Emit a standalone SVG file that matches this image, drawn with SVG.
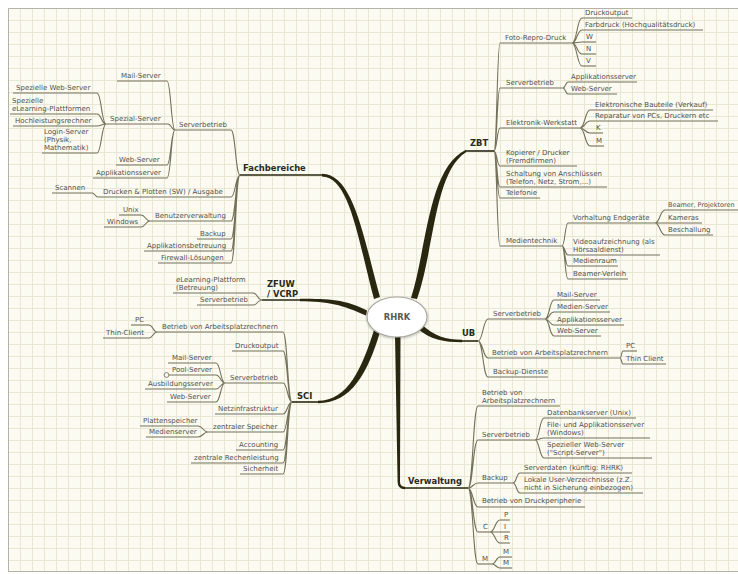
<svg xmlns="http://www.w3.org/2000/svg" width="738" height="574" viewBox="0 0 738 574">
<defs>
<pattern id="grid" x="8" y="8" width="12" height="12" patternUnits="userSpaceOnUse">
<rect width="12" height="12" fill="#fbfbf1"/>
<path d="M0 0.5H12M0.5 0V12" stroke="#e8e7d6" stroke-width="1" fill="none"/>
</pattern>
<filter id="sh" x="-20%" y="-20%" width="140%" height="150%"><feDropShadow dx="0" dy="1" stdDeviation="1" flood-color="#000" flood-opacity="0.25"/></filter>
<style>
text{font-family:"DejaVu Sans","Liberation Sans",sans-serif;font-size:7px;fill:#505050}
text.b{font-weight:bold;font-size:8.4px;fill:#2a2a22}
.u{fill:none;stroke:#75705a;stroke-width:1.1}
.c{fill:none;stroke:#75705a;stroke-width:1.1}
.m{fill:#29270f;stroke:none}
.mu{fill:none;stroke:#29270f;stroke-width:1.6}
</style>
</defs>
<rect width="738" height="574" fill="#ffffff"/>
<rect x="8" y="8" width="730" height="563" fill="url(#grid)"/>
<path d="M8.5 571V8.5H738M8 571.5H738" fill="none" stroke="#b4b3a8" stroke-width="1"/>

<g id="connectors">
<path class="m" d="M322 173.8C354 174 364 240 380 297L374 299C358 240 350 177 322 176.4Z"/>
<path class="m" d="M411 298C427 248 428 168 466 149.8L466 152.2C434 172 434 252 417 299Z"/>
<path class="m" d="M367 310.5C345 299.5 330 298.8 300 298.8L300 301.2C328 301.2 343 305 366 315.5Z"/>
<path class="m" d="M374 330C362 368 348 400.8 318 400.8L318 403.2C352 403.2 368 372 380 332Z"/>
<path class="m" d="M421 324C434 336 446 339.8 462 339.8L462 342.2C444 342.2 430 340 417 328Z"/>
<path class="m" d="M395 335L400.5 335L400 482Q400 486.8 405 486.8L405 489.2Q397.6 489.2 397.6 482Z"/>
<path class="c" d="M231 130C235.5 130 235.5 175 240 175M231 197C235.5 197 235.5 175 240 175M231 221C235.5 221 235.5 175 240 175M231 239C235.5 239 235.5 175 240 175M231 251C235.5 251 235.5 175 240 175M231 263C235.5 263 235.5 175 240 175"/>
<path class="c" d="M167 81C171 81 171 130 175 130M168 124C171.5 124 171.5 130 175 130M167 165C171 165 171 130 175 130M167 178C171 178 171 130 175 130"/>
<path class="c" d="M97 93C101.5 93 101.5 124 106 124M97 114C101.5 114 101.5 124 106 124M97 126C101.5 126 101.5 124 106 124M97 153C101.5 153 101.5 124 106 124"/>
<path class="c" d="M92 193C95 193 95 197 98 197"/>
<path class="c" d="M141 215C145.5 215 145.5 221 150 221M141 227C145.5 227 145.5 221 150 221"/>
<path class="c" d="M253 293C257.5 293 257.5 300 262 300M253 305C257.5 305 257.5 300 262 300"/>
<path class="c" d="M283 332C287.5 332 287.5 402 292 402M283 351C287.5 351 287.5 402 292 402M283 383C287.5 383 287.5 402 292 402M283 414C287.5 414 287.5 402 292 402M283 432C287.5 432 287.5 402 292 402M283 450C287.5 450 287.5 402 292 402M283 463C287.5 463 287.5 402 292 402M283 474C287.5 474 287.5 402 292 402"/>
<path class="c" d="M149 325C153 325 153 332 157 332M149 338C153 338 153 332 157 332"/>
<path class="c" d="M216 363C220.5 363 220.5 383 225 383M216 375C220.5 375 220.5 383 225 383M216 389C220.5 389 220.5 383 225 383M216 402C220.5 402 220.5 383 225 383"/>
<path class="c" d="M198 426C203 426 203 432 208 432M198 437C203 437 203 432 208 432"/>
<path class="c" d="M494 151C497 151 497 43 500 43M494 151C497 151 497 88 500 88M494 151C497 151 497 128 500 128M494 151C497 151 497 166 500 166M494 151C497 151 497 187 500 187M494 151C497 151 497 198 500 198M494 151C497 151 497 246 500 246"/>
<path class="c" d="M572 43C577 43 577 18 582 18M572 43C577 43 577 30 582 30M572 43C577 43 577 42 582 42M572 43C577 43 577 54 582 54M572 43C577 43 577 66 582 66"/>
<path class="c" d="M563 88C565.5 88 565.5 82 568 82M563 88C565.5 88 565.5 94 568 94"/>
<path class="c" d="M580 128C585 128 585 110 590 110M580 128C585 128 585 121 590 121M580 128C585 128 585 133 590 133M580 128C585 128 585 146 590 146"/>
<path class="c" d="M562 246C565 246 565 223 568 223M562 246C565 246 565 255 568 255M562 246C565 246 565 266 568 266M562 246C565 246 565 279 568 279"/>
<path class="c" d="M655 223C660 223 660 210 665 210M655 223C660 223 660 223 665 223M655 223C660 223 660 235 665 235"/>
<path class="c" d="M478 341C483 341 483 319 488 319M478 341C483 341 483 358 488 358M478 341C483 341 483 377 488 377"/>
<path class="c" d="M545 319C549.5 319 549.5 300 554 300M545 319C549.5 319 549.5 312 554 312M545 319C549.5 319 549.5 325 554 325M545 319C549.5 319 549.5 336 554 336"/>
<path class="c" d="M620 358C621.5 358 621.5 351 623 351M620 358C621.5 358 621.5 364 623 364"/>
<path class="c" d="M468 488C473 488 473 406 478 406M468 488C473 488 473 440 478 440M468 488C473 488 473 483 478 483M468 488C473 488 473 507 478 507M468 488C473 488 473 532 478 532M468 488C473 488 473 564 478 564"/>
<path class="c" d="M535 440C539.5 440 539.5 418 544 418M535 440C539.5 440 539.5 438 544 438M535 440C539.5 440 539.5 458 544 458"/>
<path class="c" d="M513 483C516.5 483 516.5 473 520 473M513 483C516.5 483 516.5 493 520 493"/>
<path class="c" d="M490 532C495 532 495 520 500 520M490 532C495 532 495 532 500 532M490 532C495 532 495 543 500 543"/>
<path class="c" d="M492 564C496 564 496 557 500 557M492 564C496 564 496 568 500 568"/>
</g>

<g id="rhrk">
<ellipse cx="397" cy="317" rx="30" ry="20" fill="#ffffff" stroke="#a8a8a0" stroke-width="1.2" filter="url(#sh)"/>
<text class="b" x="397" y="320" text-anchor="middle" style="fill:#5a5a55">RHRK</text>
</g>

<g id="fachbereiche"><text class="b" x="243" y="171">Fachbereiche</text><path class="mu" d="M240 175H322"/></g>
<g id="fb-serverbetrieb"><text x="179" y="127">Serverbetrieb</text><path class="u" d="M175 130H231"/></g>
<g id="fb-mail"><text x="121" y="78">Mail-Server</text><path class="u" d="M117 81H167"/></g>
<g id="fb-spezial"><text x="110" y="121">Spezial-Server</text><path class="u" d="M106 124H168"/></g>
<g id="fb-spezweb"><text x="16" y="90">Spezielle Web-Server</text><path class="u" d="M13 93H97"/></g>
<g id="fb-spezelearn"><text x="12" y="103">Spezielle</text><text x="12" y="111">eLearning-Plattformen</text><path class="u" d="M10 114H97"/></g>
<g id="fb-hochleist"><text x="15" y="123">Hochleistungsrechner</text><path class="u" d="M13 126H97"/></g>
<g id="fb-login"><text x="44" y="134">Login-Server</text><text x="44" y="142">(Physik,</text><text x="44" y="150">Mathematik)</text><path class="u" d="M42 153H97"/></g>
<g id="fb-web"><text x="119" y="162">Web-Server</text><path class="u" d="M116 165H167"/></g>
<g id="fb-appl"><text x="96" y="175">Applikationsserver</text><path class="u" d="M93 178H167"/></g>
<g id="fb-drucken"><text x="103" y="194">Drucken &amp; Plotten (SW) / Ausgabe</text><path class="u" d="M98 197H231"/></g>
<g id="fb-scannen"><text x="55" y="190">Scannen</text><path class="u" d="M52 193H92"/></g>
<g id="fb-benutzer"><text x="155" y="218">Benutzerverwaltung</text><path class="u" d="M150 221H231"/></g>
<g id="fb-unix"><text x="123" y="212">Unix</text><path class="u" d="M119 215H141"/></g>
<g id="fb-windows"><text x="107" y="224">Windows</text><path class="u" d="M104 227H141"/></g>
<g id="fb-backup"><text x="200" y="236">Backup</text><path class="u" d="M197 239H231"/></g>
<g id="fb-applbetr"><text x="147" y="248">Applikationsbetreuung</text><path class="u" d="M144 251H231"/></g>
<g id="fb-firewall"><text x="161" y="260">Firewall-Lösungen</text><path class="u" d="M158 263H231"/></g>

<g id="zfuw"><text class="b" x="267" y="287">ZFUW</text><text class="b" x="267" y="297">/ VCRP</text><path class="mu" d="M262 300H300"/></g>
<g id="zfuw-elearn"><text x="176" y="282">eLearning-Plattform</text><text x="176" y="290">(Betreuung)</text><path class="u" d="M173 293H253"/></g>
<g id="zfuw-server"><text x="200" y="302">Serverbetrieb</text><path class="u" d="M197 305H253"/></g>

<g id="sci"><text class="b" x="297" y="399">SCI</text><path class="mu" d="M292 402H318"/></g>
<g id="sci-betrieb"><text x="162" y="329">Betrieb von Arbeitsplatzrechnern</text><path class="u" d="M157 332H283"/></g>
<g id="sci-pc"><text x="135" y="322">PC</text><path class="u" d="M131 325H149"/></g>
<g id="sci-thin"><text x="106" y="335">Thin-Client</text><path class="u" d="M103 338H149"/></g>
<g id="sci-druck"><text x="235" y="348">Druckoutput</text><path class="u" d="M232 351H283"/></g>
<g id="sci-server"><text x="230" y="380">Serverbetrieb</text><path class="u" d="M225 383H283"/></g>
<g id="sci-mail"><text x="172" y="360">Mail-Server</text><path class="u" d="M168 363H216"/></g>
<g id="sci-pool"><text x="172" y="372">Pool-Server</text><path class="u" d="M169 375H216"/><circle cx="166.5" cy="375" r="2.4" fill="#ffffff" stroke="#75705a" stroke-width="0.9"/></g>
<g id="sci-ausb"><text x="148" y="386">Ausbildungsserver</text><path class="u" d="M145 389H216"/></g>
<g id="sci-web"><text x="170" y="399">Web-Server</text><path class="u" d="M167 402H216"/></g>
<g id="sci-netz"><text x="218" y="411">Netzinfrastruktur</text><path class="u" d="M215 414H283"/></g>
<g id="sci-speicher"><text x="213" y="429">zentraler Speicher</text><path class="u" d="M208 432H283"/></g>
<g id="sci-platten"><text x="143" y="423">Plattenspeicher</text><path class="u" d="M140 426H198"/></g>
<g id="sci-medien"><text x="149" y="434">Medienserver</text><path class="u" d="M146 437H198"/></g>
<g id="sci-account"><text x="239" y="447">Accounting</text><path class="u" d="M236 450H283"/></g>
<g id="sci-rechen"><text x="194" y="460">zentrale Rechenleistung</text><path class="u" d="M191 463H283"/></g>
<g id="sci-sicher"><text x="243" y="471">Sicherheit</text><path class="u" d="M240 474H283"/></g>

<g id="zbt"><text class="b" x="470" y="146">ZBT</text><path class="mu" d="M466 151H494"/></g>
<g id="zbt-foto"><text x="505" y="40">Foto-Repro-Druck</text><path class="u" d="M500 43H572"/></g>
<g id="zbt-druckoutput"><text x="585" y="15">Druckoutput</text><path class="u" d="M582 18H632"/></g>
<g id="zbt-farbdruck"><text x="585" y="27">Farbdruck (Hochqualitätsdruck)</text><path class="u" d="M582 30H703"/></g>
<g id="zbt-w"><text x="586" y="39">W</text><path class="u" d="M582 42H596"/></g>
<g id="zbt-n"><text x="586" y="51">N</text><path class="u" d="M582 54H596"/></g>
<g id="zbt-v"><text x="586" y="63">V</text><path class="u" d="M582 66H596"/></g>
<g id="zbt-server"><text x="506" y="85">Serverbetrieb</text><path class="u" d="M500 88H563"/></g>
<g id="zbt-appl"><text x="571" y="79">Applikationsserver</text><path class="u" d="M568 82H637"/></g>
<g id="zbt-web"><text x="571" y="91">Web-Server</text><path class="u" d="M568 94H617"/></g>
<g id="zbt-elektronik"><text x="506" y="125">Elektronik-Werkstatt</text><path class="u" d="M500 128H580"/></g>
<g id="zbt-bauteile"><text x="595" y="107">Elektronische Bauteile (Verkauf)</text><path class="u" d="M590 110H713"/></g>
<g id="zbt-reparatur"><text x="595" y="118">Reparatur von PCs, Druckern etc</text><path class="u" d="M590 121H718"/></g>
<g id="zbt-k"><text x="596" y="130">K</text><path class="u" d="M590 133H603"/></g>
<g id="zbt-m"><text x="596" y="143">M</text><path class="u" d="M590 146H604"/></g>
<g id="zbt-kopierer"><text x="506" y="155">Kopierer / Drucker</text><text x="506" y="163">(Fremdfirmen)</text><path class="u" d="M500 166H577"/></g>
<g id="zbt-schaltung"><text x="506" y="176">Schaltung von Anschlüssen</text><text x="506" y="184">(Telefon, Netz, Strom,...)</text><path class="u" d="M500 187H607"/></g>
<g id="zbt-telefonie"><text x="506" y="195">Telefonie</text><path class="u" d="M500 198H540"/></g>
<g id="zbt-medientechnik"><text x="506" y="243">Medientechnik</text><path class="u" d="M500 246H562"/></g>
<g id="zbt-vorhaltung"><text x="573" y="220">Vorhaltung Endgeräte</text><path class="u" d="M568 223H655"/></g>
<g id="zbt-beamer"><text x="668" y="207" style="font-size:6.5px">Beamer, Projektoren</text><path class="u" d="M665 210H738"/></g>
<g id="zbt-kameras"><text x="668" y="220">Kameras</text><path class="u" d="M665 223H702"/></g>
<g id="zbt-beschallung"><text x="668" y="232">Beschallung</text><path class="u" d="M665 235H713"/></g>
<g id="zbt-video"><text x="573" y="244">Videoaufzeichnung (als</text><text x="573" y="252">Hörsaaldienst)</text><path class="u" d="M568 255H660"/></g>
<g id="zbt-medienraum"><text x="573" y="263">Medienraum</text><path class="u" d="M568 266H618"/></g>
<g id="zbt-verleih"><text x="573" y="276">Beamer-Verleih</text><path class="u" d="M568 279H628"/></g>

<g id="ub"><text class="b" x="462" y="336">UB</text><path class="mu" d="M462 341H478"/></g>
<g id="ub-server"><text x="493" y="316">Serverbetrieb</text><path class="u" d="M488 319H545"/></g>
<g id="ub-mail"><text x="557" y="297">Mail-Server</text><path class="u" d="M554 300H600"/></g>
<g id="ub-medien"><text x="557" y="309">Medien-Server</text><path class="u" d="M554 312H610"/></g>
<g id="ub-appl"><text x="557" y="322">Applikationsserver</text><path class="u" d="M554 325H624"/></g>
<g id="ub-web"><text x="557" y="333">Web-Server</text><path class="u" d="M554 336H601"/></g>
<g id="ub-betrieb"><text x="492" y="355">Betrieb von Arbeitsplatzrechnern</text><path class="u" d="M488 358H620"/></g>
<g id="ub-pc"><text x="626" y="348">PC</text><path class="u" d="M623 351H637"/></g>
<g id="ub-thin"><text x="626" y="361">Thin Client</text><path class="u" d="M623 364H666"/></g>
<g id="ub-backup"><text x="493" y="374">Backup-Dienste</text><path class="u" d="M488 377H548"/></g>

<g id="verwaltung"><text class="b" x="408" y="484">Verwaltung</text><path class="mu" d="M404 488H468"/></g>
<g id="vw-betrieb"><text x="482" y="395">Betrieb von</text><text x="482" y="403">Arbeitsplatzrechnern</text><path class="u" d="M478 406H560"/></g>
<g id="vw-server"><text x="482" y="437">Serverbetrieb</text><path class="u" d="M478 440H535"/></g>
<g id="vw-db"><text x="547" y="415">Datenbankserver (Unix)</text><path class="u" d="M544 418H636"/></g>
<g id="vw-file"><text x="547" y="427">File- und Applikationsserver</text><text x="547" y="435">(Windows)</text><path class="u" d="M544 438H650"/></g>
<g id="vw-script"><text x="547" y="447">Spezieller Web-Server</text><text x="547" y="455">("Script-Server")</text><path class="u" d="M544 458H652"/></g>
<g id="vw-backup"><text x="482" y="480">Backup</text><path class="u" d="M478 483H513"/></g>
<g id="vw-serverdaten"><text x="524" y="470">Serverdaten (künftig: RHRK)</text><path class="u" d="M520 473H632"/></g>
<g id="vw-lokale"><text x="524" y="482">Lokale User-Verzeichnisse (z.Z.</text><text x="524" y="490">nicht in Sicherung einbezogen)</text><path class="u" d="M520 493H643"/></g>
<g id="vw-druck"><text x="482" y="503">Betrieb von Druckperipherie</text><path class="u" d="M478 507H585"/></g>
<g id="vw-c"><text x="483" y="529">C</text><path class="u" d="M478 532H490"/></g>
<g id="vw-p"><text x="504" y="517">P</text><path class="u" d="M500 520H510"/></g>
<g id="vw-i"><text x="504" y="529">I</text><path class="u" d="M500 532H510"/></g>
<g id="vw-r"><text x="504" y="540">R</text><path class="u" d="M500 543H510"/></g>
<g id="vw-m"><text x="482" y="561">M</text><path class="u" d="M478 564H492"/></g>
<g id="vw-m1"><text x="503" y="554">M</text><path class="u" d="M500 557H512"/></g>
<g id="vw-m2"><text x="503" y="565">M</text><path class="u" d="M500 568H512"/></g>
</svg>
